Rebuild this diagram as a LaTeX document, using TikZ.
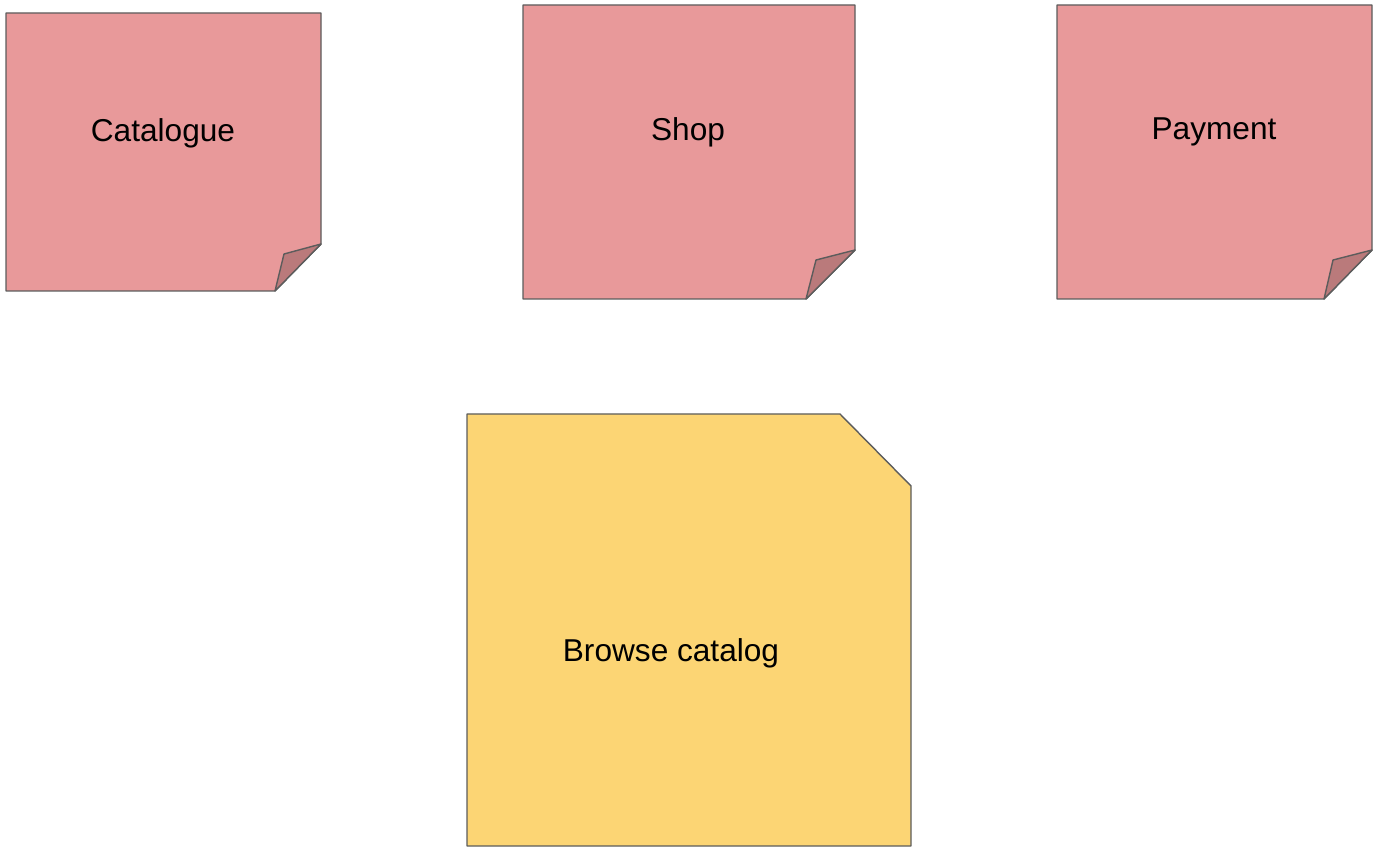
\documentclass[tikz,border=0pt]{standalone}
\usepackage{fontspec}
\setmainfont{Liberation Sans}
\usepackage{tikz}
\definecolor{notepink}{HTML}{E8999A}
\definecolor{foldpink}{HTML}{BA7A7B}
\definecolor{noteyellow}{HTML}{FCD574}
\definecolor{noteline}{HTML}{5C5C5C}

\begin{document}
\begin{tikzpicture}[x=0.02cm,y=-0.02cm,line join=round,
                    note/.style={draw=noteline,line width=0.8pt,fill=notepink},
                    fold/.style={draw=noteline,line width=0.8pt,fill=foldpink},
                    event/.style={draw=noteline,line width=0.8pt,fill=noteyellow},
                    label/.style={font=\fontsize{18}{22}\selectfont,text=black}]
  \useasboundingbox (0,0) rectangle (1382,854);

  % aggregates
  \draw[note] (6,13) -- (321,13) -- (321,244) -- (275,291) -- (6,291) -- cycle;
  \draw[fold] (321,244) -- (284,254) -- (275,291) -- cycle;
  \node[label] (catalogue) at (163,133) {Catalogue};

  \draw[note] (523,5) -- (855,5) -- (855,250) -- (806,299) -- (523,299) -- cycle;
  \draw[fold] (855,250) -- (816,260) -- (806,299) -- cycle;
  \node[label] (shop) at (688,132) {Shop};

  \draw[note] (1057,5) -- (1372,5) -- (1372,250) -- (1324,299) -- (1057,299) -- cycle;
  \draw[fold] (1372,250) -- (1333,260) -- (1324,299) -- cycle;
  \node[label] (payment) at (1214,132) {Payment};

  % command
  \draw[event] (467,414) -- (840,414) -- (911,486) -- (911,846) -- (467,846) -- cycle;
  \node[label] (browse) at (671,653) {Browse catalog};
\end{tikzpicture}
\end{document}
